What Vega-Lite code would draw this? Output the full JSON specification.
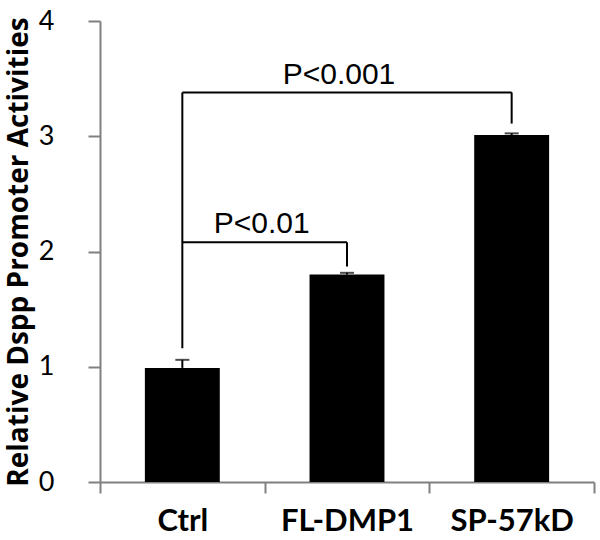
{
  "$schema": "https://vega.github.io/schema/vega-lite/v6.json",
  "width": 494,
  "height": 461,
  "autosize": {"type": "none"},
  "padding": {"left": 100, "top": 21, "right": 6, "bottom": 58},
  "background": "white",
  "config": {"view": {"stroke": null}},
  "datasets": {
    "bars": [
      {"group": "Ctrl", "value": 0.99, "hi": 1.06},
      {"group": "FL-DMP1", "value": 1.8, "hi": 1.815},
      {"group": "SP-57kD", "value": 3.01, "hi": 3.025}
    ],
    "brackets": [
      {"a": "Ctrl", "b": "Ctrl", "lo": 1.16, "hi": 3.38},
      {"a": "Ctrl", "b": "SP-57kD", "lo": 3.38, "hi": 3.38},
      {"a": "SP-57kD", "b": "SP-57kD", "lo": 3.11, "hi": 3.38},
      {"a": "Ctrl", "b": "FL-DMP1", "lo": 2.08, "hi": 2.08},
      {"a": "FL-DMP1", "b": "FL-DMP1", "lo": 1.87, "hi": 2.08}
    ],
    "p1": [{"group": "FL-DMP1", "y": 3.45, "text": "P<0.001"}],
    "p2": [{"group": "Ctrl", "y": 2.16, "text": "P<0.01"}]
  },
  "layer": [
    {
      "data": {"name": "bars"},
      "mark": {"type": "bar", "color": "black", "width": {"band": 0.455}},
      "encoding": {
        "x": {
          "field": "group", "type": "nominal",
          "scale": {"domain": ["Ctrl", "FL-DMP1", "SP-57kD"], "paddingInner": 0, "paddingOuter": 0},
          "axis": {
            "title": null, "labelAngle": 0, "tickBand": "extent",
            "tickSize": 11, "tickWidth": 2, "tickColor": "#808080",
            "domainColor": "#808080", "domainWidth": 2,
            "labelFont": "Lato", "labelFontWeight": "bold", "labelFontSize": 31,
            "labelColor": "black", "labelPadding": 13
          }
        },
        "y": {
          "field": "value", "type": "quantitative",
          "scale": {"domain": [0, 4], "nice": false},
          "axis": {
            "values": [0, 1, 2, 3, 4], "format": "d", "grid": false,
            "tickSize": 12, "tickWidth": 2, "tickColor": "#808080",
            "domainColor": "#808080", "domainWidth": 2,
            "labelFont": "Lato", "labelFontSize": 27, "labelColor": "black",
            "labelPadding": 34,
            "title": "Relative Dspp Promoter Activities",
            "titleFont": "Open Sans", "titleFontWeight": "bold", "titleFontSize": 28,
            "titleColor": "black", "titlePadding": 5
          }
        }
      }
    },
    {
      "data": {"name": "bars"},
      "mark": {"type": "rule", "color": "black", "strokeWidth": 2},
      "encoding": {
        "x": {"field": "group", "type": "nominal"},
        "y": {"field": "value", "type": "quantitative"},
        "y2": {"field": "hi"}
      }
    },
    {
      "data": {"name": "bars"},
      "mark": {"type": "tick", "color": "black", "size": 14, "thickness": 2, "orient": "horizontal"},
      "encoding": {
        "x": {"field": "group", "type": "nominal"},
        "y": {"field": "hi", "type": "quantitative"}
      }
    },
    {
      "data": {"name": "brackets"},
      "mark": {"type": "rule", "color": "black", "strokeWidth": 2},
      "encoding": {
        "x": {"field": "a", "type": "nominal"},
        "x2": {"field": "b"},
        "y": {"field": "lo", "type": "quantitative"},
        "y2": {"field": "hi"}
      }
    },
    {
      "data": {"name": "p1"},
      "mark": {"type": "text", "font": "Liberation Sans", "fontSize": 30, "color": "black", "baseline": "alphabetic", "align": "center", "dx": -8},
      "encoding": {
        "x": {"field": "group", "type": "nominal", "bandPosition": 0.5},
        "y": {"field": "y", "type": "quantitative"},
        "text": {"field": "text"}
      }
    },
    {
      "data": {"name": "p2"},
      "mark": {"type": "text", "font": "Liberation Sans", "fontSize": 30, "color": "black", "baseline": "alphabetic", "align": "center", "dx": -3},
      "encoding": {
        "x": {"field": "group", "type": "nominal", "bandPosition": 1},
        "y": {"field": "y", "type": "quantitative"},
        "text": {"field": "text"}
      }
    }
  ]
}
